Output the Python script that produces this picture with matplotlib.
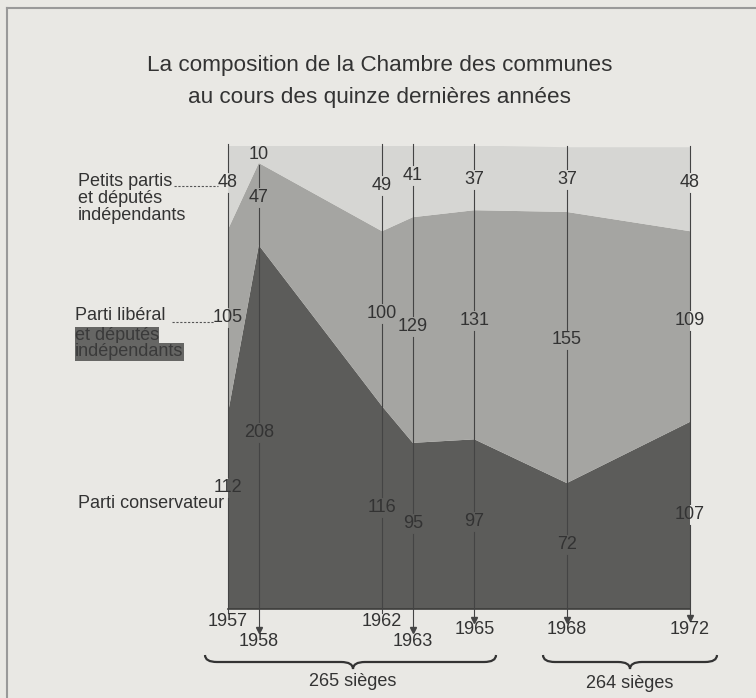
import matplotlib
matplotlib.use("Agg")
import matplotlib.pyplot as plt
from matplotlib.path import Path
from matplotlib.patches import PathPatch
from matplotlib.lines import Line2D

plt.rcParams['font.family'] = ['Liberation Sans', 'DejaVu Sans']

# Données : sièges par parti à chaque élection
annees = [1957, 1958, 1962, 1963, 1965, 1968, 1972]
conservateurs = [112, 208, 116, 95, 97, 72, 107]
liberaux = [105, 47, 100, 129, 131, 155, 109]
petits = [48, 10, 49, 41, 37, 37, 48]
groupes = [("265 sièges", 1957, 1965), ("264 sièges", 1968, 1972)]

# placement des étiquettes (en sièges) et des fins de traits
y_petits = [243.8, 260, 241.9, 248, 245.8, 245.8, 244.1]
y_liberaux = [166.4, 235, 168.7, 161.4, 165, 153.8, 165]
y_conserv = [69.5, 101, 58, 49, 50, 37, 54]
fin_trait = [-2.3, -13.1, -2.3, -13.1, -7.4, -7.4, -6.3]
fleche = [False, True, False, True, True, True, True]
y_annee = [-7.4, -18.3, -7.4, -18.3, -12, -12, -12]

W, H = 756, 698
fond = '#e9e8e4'
c_petits, c_lib, c_cons = '#d6d6d3', '#a5a5a2', '#5c5c5a'
c_txt = '#333333'
fs = 13

fig = plt.figure(figsize=(W / 100, H / 100), dpi=100, facecolor=fond)
ax = fig.add_axes([228 / W, 1 - 609 / H, 462 / W, 463.5 / H])
ax.set_facecolor('none')
ax.stackplot(annees, conservateurs, liberaux, petits,
             colors=[c_cons, c_lib, c_petits], linewidth=0)
ax.set_xlim(1957, 1972)
ax.set_ylim(0, 265)
ax.axis('off')
ax.plot([1957, 1972], [0, 0], color='#3c3c3a', lw=1.2, clip_on=False)

# traits verticaux, interrompus autour des nombres
gap = 6
for i, an in enumerate(annees):
    total = conservateurs[i] + liberaux[i] + petits[i]
    labels = sorted([y_petits[i], y_liberaux[i], y_conserv[i]], reverse=True)
    haut = total + 1
    for ly in labels:
        if ly + gap < haut:
            ax.plot([an, an], [haut, ly + gap], color='#444444', lw=0.8, clip_on=False)
        haut = min(haut, ly - gap)
    ax.plot([an, an], [haut, fin_trait[i]], color='#444444', lw=0.8, clip_on=False)
    if fleche[i]:
        ax.plot([an], [fin_trait[i] + 1.2], marker='v', ms=4.5, color='#444444',
                clip_on=False)
    for val, ly in zip([petits[i], liberaux[i], conservateurs[i]],
                       [y_petits[i], y_liberaux[i], y_conserv[i]]):
        ax.text(an, ly, str(val), ha='center', va='center', fontsize=fs, color=c_txt)
    ax.text(an, y_annee[i], str(an), ha='center', va='center', fontsize=fs,
            color=c_txt, clip_on=False)


def px(x, y):
    return (x / W, 1 - y / H)


# titre
fig.text(*px(380, 66), "La composition de la Chambre des communes",
         ha='center', va='center', fontsize=16.2, color=c_txt)
fig.text(*px(380, 98), "au cours des quinze dernières années",
         ha='center', va='center', fontsize=16.2, color=c_txt)

# légendes à gauche
fig.text(*px(78, 198.5), "Petits partis\net députés\nindépendants", ha='left',
         va='center', fontsize=fs, color=c_txt, linespacing=0.97)
fig.add_artist(Line2D([174 / W, 218 / W], [1 - 186 / H] * 2, color='#555555',
                      lw=0.8, ls=(0, (2, 1.5))))
fig.text(*px(75, 316), "Parti libéral", ha='left', va='center', fontsize=fs,
         color=c_txt)
fig.add_artist(Line2D([172 / W, 214 / W], [1 - 322 / H] * 2, color='#555555',
                      lw=0.8, ls=(0, (2, 1.5))))
for txt, yy in [("et députés", 336), ("indépendants", 352)]:
    fig.text(*px(75, yy), txt, ha='left', va='center', fontsize=fs, color='#3a3a3a',
             bbox=dict(facecolor='#666664', edgecolor='none', pad=0.2))
fig.text(*px(78, 503), "Parti conservateur", ha='left', va='center', fontsize=fs,
         color=c_txt)

# accolades
def accolade(x0, x1, xt, ye=655, ym=662, yt=669, r=12):
    pts = [px(x0, ye), px(x0, ym), px(x0 + r, ym), px(xt - r, ym), px(xt, ym),
           px(xt, yt), px(xt, ym), px(xt + r, ym), px(x1 - r, ym), px(x1, ym),
           px(x1, ye)]
    codes = [Path.MOVETO, Path.CURVE3, Path.CURVE3, Path.LINETO, Path.CURVE3,
             Path.CURVE3, Path.CURVE3, Path.CURVE3, Path.LINETO, Path.CURVE3,
             Path.CURVE3]
    fig.add_artist(PathPatch(Path(pts, codes), transform=fig.transFigure,
                             fill=False, edgecolor='#333333', lw=1.6))


accolade(205, 496, 353)
accolade(543, 717, 630)
fig.text(*px(353, 682), groupes[0][0], ha='center', va='center', fontsize=fs,
         color=c_txt)
fig.text(*px(630, 683), groupes[1][0], ha='center', va='center', fontsize=fs,
         color=c_txt)

# cadre
fig.add_artist(Line2D([7 / W, 1], [1 - 8 / H] * 2, color='#999999', lw=1.5))
fig.add_artist(Line2D([7 / W] * 2, [0, 1 - 8 / H], color='#999999', lw=1.5))

fig.savefig("out.png", dpi=100, facecolor=fond)
